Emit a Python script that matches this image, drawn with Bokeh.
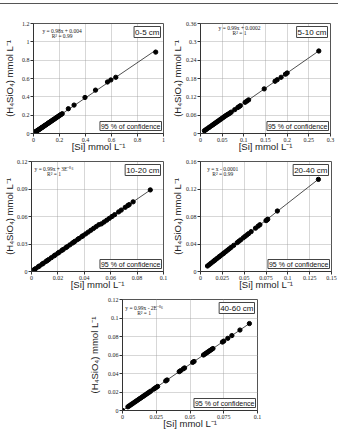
import numpy as np
from bokeh.plotting import figure
from bokeh.layouts import column, row
from bokeh.models import Div, Label, FixedTicker
from bokeh.embed import file_html
from bokeh.resources import INLINE

# ---------------- data ----------------
titles = ["0-5 cm", "5-10 cm", "10-20 cm", "20-40 cm", "40-60 cm"]
equations = ["y = 0.98x + 0.004", "y = 0.99x + 0.0002", "y = 0.99x + 3E\u207b\u2070\u2076",
             "y = x - 0.0001", "y = 0.99x - 2E\u207b\u2070\u2076"]
r2_texts = ["R\u00b2 = 0.99", "R\u00b2 = 1", "R\u00b2 = 1", "R\u00b2 = 0.99", "R\u00b2 = 1"]

si_05 = [0.004, 0.008, 0.012, 0.017, 0.021, 0.026, 0.030, 0.035, 0.041, 0.046, 0.052, 0.058,
         0.063, 0.069, 0.075, 0.082, 0.088, 0.094, 0.101, 0.108, 0.115, 0.121, 0.128, 0.135,
         0.142, 0.149, 0.156, 0.163, 0.171, 0.178, 0.186, 0.194, 0.203, 0.212, 0.221, 0.268,
         0.312, 0.396, 0.477, 0.569, 0.595, 0.633, 0.940]
h4_05 = [0.007, 0.011, 0.015, 0.019, 0.023, 0.028, 0.032, 0.037, 0.042, 0.047, 0.053, 0.059,
         0.064, 0.069, 0.075, 0.082, 0.088, 0.093, 0.100, 0.107, 0.114, 0.120, 0.126, 0.133,
         0.140, 0.147, 0.153, 0.160, 0.168, 0.175, 0.182, 0.190, 0.199, 0.207, 0.216, 0.270,
         0.310, 0.393, 0.473, 0.562, 0.584, 0.613, 0.888]

si_510 = [0.009, 0.012, 0.015, 0.019, 0.022, 0.026, 0.029, 0.032, 0.035, 0.038, 0.041, 0.044,
          0.047, 0.050, 0.053, 0.056, 0.059, 0.062, 0.065, 0.068, 0.071, 0.079, 0.086, 0.089,
          0.092, 0.103, 0.107, 0.111, 0.147, 0.172, 0.177, 0.186, 0.196, 0.200, 0.273]
h4_510 = [0.009, 0.012, 0.015, 0.019, 0.022, 0.026, 0.029, 0.032, 0.035, 0.038, 0.041, 0.044,
          0.047, 0.050, 0.053, 0.056, 0.059, 0.062, 0.064, 0.067, 0.070, 0.078, 0.085, 0.088,
          0.091, 0.102, 0.106, 0.110, 0.146, 0.171, 0.176, 0.184, 0.194, 0.198, 0.270]

si_1020 = [0.002, 0.003, 0.005, 0.006, 0.008, 0.009, 0.011, 0.012, 0.013, 0.015, 0.017, 0.018,
           0.020, 0.021, 0.023, 0.024, 0.026, 0.027, 0.029, 0.031, 0.032, 0.033, 0.035, 0.036,
           0.038, 0.039, 0.041, 0.043, 0.045, 0.047, 0.049, 0.051, 0.053, 0.055, 0.057, 0.059,
           0.061, 0.063, 0.066, 0.068, 0.071, 0.073, 0.074, 0.077, 0.090]
h4_1020 = [0.002, 0.003, 0.005, 0.006, 0.008, 0.009, 0.011, 0.012, 0.013, 0.015, 0.017, 0.018,
           0.020, 0.021, 0.023, 0.024, 0.026, 0.027, 0.029, 0.031, 0.032, 0.033, 0.035, 0.036,
           0.038, 0.039, 0.041, 0.043, 0.045, 0.047, 0.049, 0.051, 0.052, 0.054, 0.056, 0.058,
           0.060, 0.062, 0.065, 0.067, 0.070, 0.072, 0.073, 0.076, 0.089]

si_2040 = [0.008, 0.010, 0.012, 0.014, 0.016, 0.017, 0.019, 0.021, 0.022, 0.024, 0.026, 0.027,
           0.029, 0.031, 0.033, 0.035, 0.038, 0.042, 0.044, 0.046, 0.049, 0.051, 0.053, 0.055,
           0.058, 0.063, 0.066, 0.068, 0.075, 0.076, 0.077, 0.088, 0.135]
h4_2040 = [0.008, 0.010, 0.012, 0.014, 0.016, 0.017, 0.019, 0.021, 0.022, 0.024, 0.026, 0.027,
           0.029, 0.031, 0.033, 0.035, 0.038, 0.042, 0.044, 0.046, 0.049, 0.051, 0.053, 0.055,
           0.058, 0.063, 0.066, 0.068, 0.074, 0.075, 0.076, 0.088, 0.134]

si_4060 = [0.000, 0.004, 0.005, 0.006, 0.007, 0.008, 0.009, 0.010, 0.011, 0.012, 0.013, 0.014,
           0.015, 0.016, 0.017, 0.018, 0.019, 0.020, 0.021, 0.023, 0.024, 0.025, 0.026, 0.032,
           0.033, 0.042, 0.043, 0.045, 0.046, 0.052, 0.053, 0.060, 0.061, 0.062, 0.063, 0.064,
           0.065, 0.066, 0.067, 0.074, 0.075, 0.078, 0.081, 0.087, 0.094]
h4_4060 = [0.000, 0.004, 0.005, 0.006, 0.007, 0.008, 0.009, 0.010, 0.011, 0.012, 0.013, 0.014,
           0.015, 0.016, 0.017, 0.018, 0.019, 0.020, 0.021, 0.023, 0.024, 0.025, 0.026, 0.032,
           0.033, 0.042, 0.043, 0.045, 0.046, 0.052, 0.053, 0.060, 0.061, 0.062, 0.063, 0.064,
           0.065, 0.066, 0.067, 0.074, 0.075, 0.078, 0.081, 0.087, 0.094]

x_ticks = [[0, 0.2, 0.4, 0.6, 0.8, 1],
           [0, 0.05, 0.1, 0.15, 0.2, 0.25, 0.3],
           [0, 0.02, 0.04, 0.06, 0.08, 0.1],
           [0, 0.025, 0.05, 0.075, 0.1, 0.125, 0.15],
           [0, 0.025, 0.05, 0.075, 0.1]]
x_tick_labels = [["0", "0.2", "0.4", "0.6", "0.8", "1"],
                 ["0", "0.05", "0.1", "0.15", "0.2", "0.25", "0.3"],
                 ["0", "0.02", "0.04", "0.06", "0.08", "0.1"],
                 ["0", "0.025", "0.05", "0.075", "0.1", "0.125", "0.15"],
                 ["0", "0.025", "0.05", "0.075", "0.1"]]
y_ticks = [[0, 0.2, 0.4, 0.6, 0.8, 1, 1.2],
           [0, 0.06, 0.12, 0.18, 0.24, 0.3, 0.36],
           [0, 0.03, 0.06, 0.09, 0.12],
           [0, 0.04, 0.08, 0.12, 0.16],
           [0, 0.02, 0.04, 0.06, 0.08, 0.1, 0.12]]
y_tick_labels = [["0", "0.2", "0.4", "0.6", "0.8", "1", "1.2"],
                 ["0", "0.06", "0.12", "0.18", "0.24", "0.3", "0.36"],
                 ["0", "0.03", "0.06", "0.09", "0.12"],
                 ["0", "0.04", "0.08", "0.12", "0.16"],
                 ["0", "0.02", "0.04", "0.06", "0.08", "0.1", "0.12"]]

xs = [si_05, si_510, si_1020, si_2040, si_4060]
ys = [h4_05, h4_510, h4_1020, h4_2040, h4_4060]

x_label = "[Si] mmol L\u207b\u00b9"
y_label = "(H\u2084SiO\u2084) mmol L\u207b\u00b9"

# ---------------- layout geometry (px) ----------------
# (frame_w, frame_h, left, right, top, bottom)
geom = [(132, 110, 31, 5, 19, 22),
        (134, 110, 28, 8, 19, 22),
        (136, 110, 27, 5, 6, 22),
        (136, 110, 27, 7, 6, 22),
        (135, 111, 122, 5, 6, 21)]
ylab_standoff = [4, 0, -1, 0, 5]
eq_pos = [(0.22, 0.93, 0.885), (0.30, 0.955, 0.91), (0.17, 0.935, 0.89),
          (0.17, 0.935, 0.89), (0.16, 0.92, 0.875)]

SANS = "Liberation Sans"
SERIF = "Liberation Serif"


def make_panel(i):
    fw, fh, ml, mr, mt, mb = geom[i]
    xmax = x_ticks[i][-1]
    ymax = y_ticks[i][-1]
    p = figure(width=ml + fw + mr, height=mt + fh + mb, x_range=(0, xmax), y_range=(0, ymax),
               output_backend="svg", toolbar_location=None,
               min_border_left=ml, min_border_right=mr, min_border_top=mt, min_border_bottom=mb)
    p.background_fill_color = "white"
    p.border_fill_color = "white"
    p.outline_line_color = "#555555"
    p.outline_line_width = 1

    for ax, ticks, labels in ((p.xaxis[0], x_ticks[i], x_tick_labels[i]),
                              (p.yaxis[0], y_ticks[i], y_tick_labels[i])):
        ax.ticker = FixedTicker(ticks=ticks)
        ax.major_label_overrides = {t: l for t, l in zip(ticks, labels)}
        ax.major_tick_out = 3
        ax.major_tick_in = 0
        ax.minor_tick_out = 0
        ax.minor_tick_in = 0
        ax.axis_line_color = "#333333"
        ax.major_tick_line_color = "#333333"
        ax.major_label_text_font = SERIF
        ax.major_label_text_font_size = "6px"
        ax.major_label_text_color = "#222222"
        ax.major_label_standoff = 1
        ax.axis_label_text_font = SANS
        ax.axis_label_text_font_size = "9.5px"
        ax.axis_label_text_font_style = "normal"
        ax.axis_label_text_color = "#222222"
    p.xaxis.axis_label = x_label
    p.yaxis.axis_label = y_label
    p.xaxis.axis_label_standoff = -4
    p.yaxis.axis_label_standoff = ylab_standoff[i]

    p.grid.grid_line_color = "#9a9a9a"
    p.grid.grid_line_dash = "1 1"
    p.grid.grid_line_width = 0.8

    x = np.array(xs[i])
    y = np.array(ys[i])
    k, b = np.polyfit(x, y, 1)
    lx = np.array([x.min(), x.max()])
    p.line(lx, k * lx + b, line_color="#222222", line_width=0.8)
    p.scatter(x, y, marker="circle", size=4.3, fill_color="black", line_color="black")

    ex, ey1, ey2 = eq_pos[i]
    p.add_layout(Label(x=ex * xmax, y=ey1 * ymax, text=equations[i], text_font=SERIF,
                       text_font_size="5.5px", text_align="center", text_baseline="middle",
                       text_color="#222222"))
    p.add_layout(Label(x=ex * xmax, y=ey2 * ymax, text=r2_texts[i], text_font=SERIF,
                       text_font_size="5.5px", text_align="center", text_baseline="middle",
                       text_color="#222222"))
    p.add_layout(Label(x=xmax, y=ymax, x_offset=-3, y_offset=-3, text=titles[i],
                       text_font=SANS, text_font_size="8px", text_align="right",
                       text_baseline="top", text_color="#111111",
                       border_line_color="#444444", border_line_width=1,
                       background_fill_color="white", padding=1))
    p.add_layout(Label(x=xmax, y=0, x_offset=-2, y_offset=3, text="95 % of confidence",
                       text_font=SANS, text_font_size="7px", text_align="right",
                       text_baseline="bottom", text_color="#111111",
                       border_line_color="#444444", border_line_width=1,
                       background_fill_color="white", padding=1))
    return p


panels = [make_panel(i) for i in range(5)]

top_line = Div(text="", width=338, height=4, margin=0,
               styles={"border-bottom": "1px solid #555555"})

layout = column(top_line,
                row(panels[0], panels[1], spacing=0),
                row(panels[2], panels[3], spacing=0),
                row(panels[4], spacing=0),
                spacing=0)

open("out.html", "w").write(file_html(layout, INLINE))
